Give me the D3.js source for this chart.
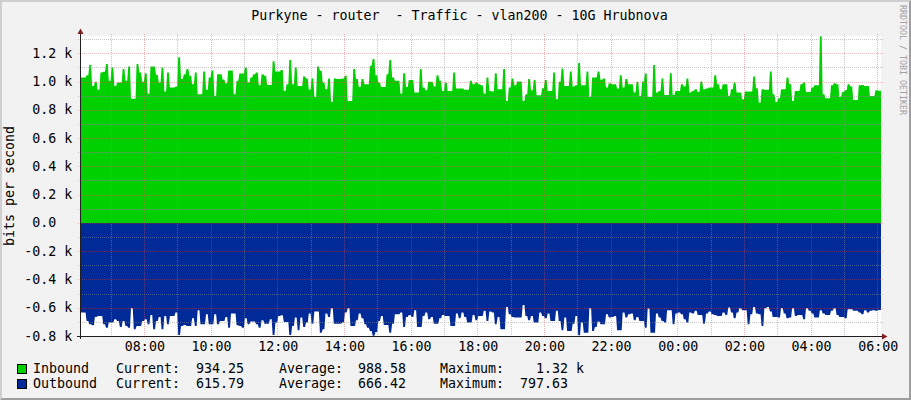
<!DOCTYPE html>
<html><head><meta charset="utf-8">
<script src="https://d3js.org/d3.v7.min.js"></script>
<style>
html,body{margin:0;padding:0;background:#F2F2F2;}
svg{display:block;}
text{font-family:"DejaVu Sans Mono",monospace;white-space:pre;}
</style></head><body>
<svg id="chart" width="911" height="400"></svg>
<script>
// ---------- data ----------
const title = "Purkyne - router  - Traffic - vlan200 - 10G Hrubnova";
const yAxisTitle = "bits per second";
const watermark = "RRDTOOL / TOBI OETIKER";
const startTime = new Date(2024, 0, 1, 6, 5);
const endTime = new Date(2024, 0, 2, 6, 5);
const stepMinutes = 5;
const yDomain = [-800, 1322];

const inbound = [
1028,1028,1045,1116,969,998,941,1064,1069,1124,
1005,1100,969,993,993,1088,1005,1107,879,879,
1124,1064,998,1059,914,1107,1107,1048,993,1100,
929,1064,957,957,964,1171,1017,1052,1088,1040,
981,1064,910,910,1071,941,1028,1078,898,1052,
1052,1012,988,1078,1078,910,1005,1057,1057,1100,
993,1028,1052,1064,974,1052,1040,976,976,1143,
1071,1071,
1081,933,981,1152,981,1100,969,969,1036,1021,
941,1021,891,1107,1076,993,945,1021,855,1021,
1017,1017,1021,1040,862,862,1088,1017,962,1017,
981,981,1112,1159,1045,993,962,962,1052,1152,
1028,1005,1005,914,1059,962,1010,1010,922,922,
1088,957,938,998,998,964,1045,1005,933,993,
933,933,1064,950,950,950,941,941,1005,981,
993,981,
974,914,1028,933,929,1059,945,945,1088,862,
957,1021,974,1000,1000,862,910,1017,938,1010,
903,903,952,1010,933,933,1064,874,998,1093,
969,969,1071,964,974,1131,974,974,1071,891,
1028,1028,1071,1012,1021,957,988,981,981,950,
1045,957,1017,981,981,922,998,898,1000,1057,
891,891,1116,922,933,1021,905,905,1059,905,
933,933,
981,964,1021,922,933,945,926,1000,945,950,
957,957,1045,981,945,981,981,898,945,993,
922,922,874,929,929,929,1036,952,850,945,
941,941,1071,910,855,881,945,945,1028,981,
862,933,933,981,993,926,926,957,974,974,
1320,910,881,881,974,988,981,891,926,938,
981,964,869,869,974,976,969,969,898,898,
938,934.25
];

const outbound = [
634,634,694,717,724,665,658,658,717,741,
705,705,682,694,736,694,729,741,603,753,
729,729,694,682,717,651,753,694,665,753,
658,717,658,658,634,793,729,722,729,729,
675,729,618,717,717,646,717,717,646,717,
694,694,665,741,641,641,724,729,741,675,
717,698,698,717,741,689,713,713,682,793,
705,658,
653,701,701,793,729,670,760,670,736,705,
641,713,627,627,777,753,641,665,603,713,
713,713,705,634,603,729,729,689,641,675,
717,741,765,797.63,772,694,658,722,722,777,
713,646,646,634,736,665,651,665,618,736,
736,658,634,682,665,713,713,675,651,658,
658,729,729,641,675,634,665,705,705,651,
689,658,
658,622,694,627,634,717,665,753,753,594,
646,665,670,670,670,580,658,689,658,705,
705,634,658,675,641,694,694,622,694,760,
670,765,765,713,658,795,705,777,777,603,
765,736,698,717,717,646,670,665,658,760,
760,634,670,646,641,689,665,694,694,741,
606,777,777,641,670,694,705,618,618,717,
641,634,
646,682,705,634,641,622,651,651,713,641,
627,646,651,658,658,634,651,599,634,675,
634,603,618,618,717,646,594,641,646,729,
603,594,627,665,665,670,603,641,675,670,
603,658,651,651,682,603,622,641,670,670,
618,641,651,651,622,603,651,665,665,675,
610,610,622,622,634,646,618,634,622,618,
622,615.79
];

const yTicks = [-800,-600,-400,-200,0,200,400,600,800,1000,1200];
const yTickLabels = [" -0.8 k"," -0.6 k"," -0.4 k"," -0.2 k","  0.0  ","  0.2 k","  0.4 k","  0.6 k","  0.8 k","  1.0 k","  1.2 k"];
const xTickLabels = ["08:00","10:00","12:00","14:00","16:00","18:00","20:00","22:00","00:00","02:00","04:00","06:00"];

const legendNames = ["Inbound","Outbound"];
const legendColors = ["#00CF00","#002A97"];
const legendCurrent = ["  934.25  ","  615.79  "];
const legendAverage = ["  988.58  ","  666.42  "];
const legendMaximum = ["    1.32 k","  797.63  "];

// ---------- drawing ----------
const W = 911, H = 400;
const plot = {left: 81, right: 881, top: 36, bottom: 336};
const svg = d3.select("#chart");

const x = d3.scaleTime().domain([startTime, endTime]).range([plot.left, plot.right]);
const y = d3.scaleLinear().domain(yDomain).range([plot.bottom, plot.top]);

// background + bevel
svg.append("rect").attr("width", W).attr("height", H).attr("fill", "#F2F2F2");
svg.append("polygon").attr("points", `0,0 ${W},0 ${W-2},2 2,2 2,${H-2} 0,${H}`).attr("fill", "#CFCFCF");
svg.append("polygon").attr("points", `${W},0 ${W},${H} 0,${H} 2,${H-2} ${W-2},${H-2} ${W-2},2`).attr("fill", "#9E9E9E");

// canvas
svg.append("rect").attr("x", plot.left).attr("y", plot.top)
  .attr("width", plot.right - plot.left).attr("height", plot.bottom - plot.top).attr("fill", "#FFFFFF");

const times = inbound.map((_, i) => d3.timeMinute.offset(startTime, i * stepMinutes));
// step series with a one-pixel slanted transition (rrdtool-like rendering)
function series(vals, sign) {
  const p = [];
  vals.forEach((v, i) => {
    const t0 = times[i];
    const t1 = i + 1 < vals.length ? times[i + 1] : endTime;
    p.push({x: x(t0), v: sign * v});
    p.push({x: x(t1) - (i + 1 < vals.length ? 1 : 0), v: sign * v});
  });
  return p;
}
const area = d3.area().x(d => d.x).y0(y(0)).y1(d => y(d.v));

svg.append("path").datum(series(inbound, 1)).attr("d", area).attr("fill", legendColors[0]);
svg.append("path").datum(series(outbound, -1)).attr("d", area).attr("fill", legendColors[1]);

// grid
const gGrid = svg.append("g");
const minorY = d3.range(yTicks[0] + 100, yDomain[1], 200);
const hourTicks = x.ticks(d3.timeHour.every(1));
const majorX = hourTicks.filter(d => d.getHours() % 2 === 0);
const minorX = hourTicks.filter(d => d.getHours() % 2 === 1);
const minorCol = "rgba(143,143,143,0.5)";
const majorCol = "rgba(222,79,79,0.45)";
const majorColH = "rgba(222,79,79,0.38)";

gGrid.selectAll(".hmin").data(minorY).join("line")
  .attr("x1", plot.left - 3).attr("x2", plot.right + 2)
  .attr("y1", d => Math.round(y(d)) + 0.5).attr("y2", d => Math.round(y(d)) + 0.5)
  .attr("stroke", minorCol).attr("stroke-dasharray", "1,1");
gGrid.selectAll(".vmin").data(minorX).join("line")
  .attr("x1", d => Math.round(x(d)) - 0.5).attr("x2", d => Math.round(x(d)) - 0.5)
  .attr("y1", plot.top - 2).attr("y2", plot.bottom + 2)
  .attr("stroke", minorCol).attr("stroke-dasharray", "1,1");
gGrid.selectAll(".hmaj").data(yTicks).join("line")
  .attr("x1", plot.left - 3).attr("x2", plot.right + 2)
  .attr("y1", d => Math.round(y(d)) + 0.5).attr("y2", d => Math.round(y(d)) + 0.5)
  .attr("stroke", majorColH).attr("stroke-dasharray", "1,1");
gGrid.selectAll(".vmaj").data(majorX).join("line")
  .attr("x1", d => Math.round(x(d)) - 0.5).attr("x2", d => Math.round(x(d)) - 0.5)
  .attr("y1", plot.top - 2).attr("y2", plot.bottom + 2)
  .attr("stroke", majorCol).attr("stroke-dasharray", "1,1");

// axes lines + arrows
const axisCol = "#1F1F1F", arrowCol = "#801F1F";
svg.append("line").attr("x1", 80.5).attr("x2", 80.5).attr("y1", plot.top - 4).attr("y2", plot.bottom + 3)
  .attr("stroke", axisCol);
svg.append("line").attr("x1", 77).attr("x2", plot.right + 3).attr("y1", plot.bottom + 0.5).attr("y2", plot.bottom + 0.5)
  .attr("stroke", axisCol);
svg.append("polygon").attr("points", `77.5,34 83.5,34 80.5,28.5`).attr("fill", arrowCol);
svg.append("polygon").attr("points", `882,333.5 882,339.5 887.5,336.5`).attr("fill", arrowCol);

// y labels
svg.append("g").selectAll("text").data(yTicks).join("text")
  .attr("x", 16.3).attr("y", d => y(d) + 4.6)
  .attr("font-size", "13.3px").attr("fill", "#000")
  .text((d, i) => yTickLabels[i]);

// x labels
svg.append("g").selectAll("text").data(majorX).join("text")
  .attr("x", d => x(d)).attr("y", 351)
  .attr("text-anchor", "middle").attr("font-size", "13.3px").attr("fill", "#000")
  .text((d, i) => xTickLabels[i]);

// title
svg.append("text").attr("x", 459.5).attr("y", 19.5).attr("text-anchor", "middle")
  .attr("font-size", "13.3px").attr("fill", "#000").text(title);

// y axis title
svg.append("text").attr("transform", `translate(14,${(plot.top + plot.bottom) / 2}) rotate(-90)`)
  .attr("text-anchor", "middle").attr("font-size", "13.3px").attr("fill", "#000").text(yAxisTitle);

// watermark
svg.append("text").attr("transform", "translate(899.5,5) rotate(90)")
  .attr("font-size", "8.3px").attr("fill", "#A0A0A0").text(watermark);

// legend
const rows = [373, 388];
const gL = svg.append("g").attr("font-size", "13.3px").attr("fill", "#000");
legendNames.forEach((name, i) => {
  const yy = rows[i];
  gL.append("rect").attr("x", 17.5).attr("y", yy - 8.5).attr("width", 9).attr("height", 9)
    .attr("fill", legendColors[i]).attr("stroke", "#000").attr("stroke-width", 1);
  gL.append("text").attr("x", 33).attr("y", yy).text(name);
  gL.append("text").attr("x", 116).attr("y", yy).text("Current:");
  gL.append("text").attr("x", 180).attr("y", yy).text(legendCurrent[i]);
  gL.append("text").attr("x", 279).attr("y", yy).text("Average:");
  gL.append("text").attr("x", 342).attr("y", yy).text(legendAverage[i]);
  gL.append("text").attr("x", 440).attr("y", yy).text("Maximum:");
  gL.append("text").attr("x", 504).attr("y", yy).text(legendMaximum[i]);
});
</script>
</body></html>
